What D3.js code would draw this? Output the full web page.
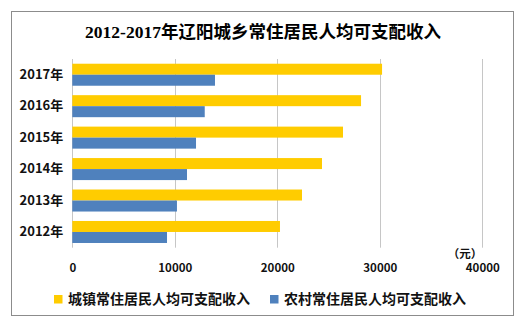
<!DOCTYPE html>
<html>
<head>
<meta charset="utf-8">
<script src="https://cdn.jsdelivr.net/npm/d3@7"></script>
<style>
  html, body { margin: 0; padding: 0; background: #fff; }
  svg { display: block; }
</style>
</head>
<body>
<svg id="chart" width="521" height="322"></svg>
<script>
// 辽阳城乡常住居民人均可支配收入 (元)
const years = ["2012年", "2013年", "2014年", "2015年", "2016年", "2017年"];
const urbanIncome = [20260, 22410, 24360, 26410, 28170, 30220];
const ruralIncome = [9240, 10210, 11190, 12070, 12920, 13920];
const xTicks = [0, 10000, 20000, 30000, 40000];
const seriesNames = ["城镇常住居民人均可支配收入", "农村常住居民人均可支配收入"];
const seriesColors = ["#FFCC00", "#4F81BD"];

const svg = d3.select("#chart");
const cjk = "'Noto Sans CJK SC', sans-serif";

// outer frame
svg.append("rect")
  .attr("x", 11.5).attr("y", 11.5)
  .attr("width", 502).attr("height", 304)
  .attr("fill", "#fff").attr("stroke", "#8c8c8c").attr("stroke-width", 1);

// title
svg.append("text")
  .attr("x", 263).attr("y", 38)
  .attr("text-anchor", "middle")
  .attr("font-family", "'Liberation Serif', 'Noto Sans CJK SC', serif")
  .attr("font-size", 17.5)
  .attr("font-weight", "bold")
  .attr("fill", "#000")
  .text("2012-2017年辽阳城乡常住居民人均可支配收入");

const plot = { left: 72.3, right: 482.3, top: 59, bottom: 247.7 };

const x = d3.scaleLinear().domain([0, 40000]).range([plot.left, plot.right]);
const y = d3.scaleBand().domain(years.slice().reverse())
  .range([plot.top, plot.bottom]).paddingInner(0.3).paddingOuter(0.15);
const sub = d3.scaleBand().domain([0, 1]).range([0, y.bandwidth()]);

// vertical gridlines
svg.append("g").selectAll("line")
  .data(xTicks)
  .join("line")
  .attr("x1", d => Math.round(x(d)) + 0.5).attr("x2", d => Math.round(x(d)) + 0.5)
  .attr("y1", plot.top).attr("y2", plot.bottom)
  .attr("stroke", "#c6c6c6").attr("stroke-width", 1);

// bars
const rows = years.map((yr, i) => ({ yr, vals: [urbanIncome[i], ruralIncome[i]] }));
const g = svg.append("g").selectAll("g")
  .data(rows)
  .join("g")
  .attr("transform", d => `translate(0,${y(d.yr)})`);
g.selectAll("rect")
  .data(d => d.vals.map((v, k) => ({ v, k })))
  .join("rect")
  .attr("x", x(0))
  .attr("y", d => sub(d.k))
  .attr("width", d => x(d.v) - x(0))
  .attr("height", sub.bandwidth())
  .attr("fill", d => seriesColors[d.k]);

// category axis labels
const yAxis = d3.axisLeft(y).tickSize(0).tickPadding(9);
const ya = svg.append("g").attr("transform", `translate(${plot.left},0)`).call(yAxis);
ya.select(".domain").remove();
ya.selectAll("text")
  .attr("font-family", cjk).attr("font-size", 13).attr("font-weight", "bold")
  .attr("fill", "#111");

// value axis labels
const xAxis = d3.axisBottom(x).tickValues(xTicks).tickSize(0).tickPadding(16.5).tickFormat(d3.format("d"));
const xa = svg.append("g").attr("transform", `translate(0,${plot.bottom})`).call(xAxis);
xa.select(".domain").remove();
xa.selectAll("text")
  .attr("font-family", cjk).attr("font-size", 11.5).attr("font-weight", "bold")
  .attr("fill", "#111");

// unit label
svg.append("text")
  .attr("x", 465).attr("y", 257.5)
  .attr("text-anchor", "middle")
  .attr("font-family", cjk).attr("font-size", 11.5).attr("font-weight", "bold")
  .attr("fill", "#111")
  .text("（元）");

// legend
const legendX = [54, 270];
const lg = svg.append("g").selectAll("g")
  .data(seriesNames)
  .join("g")
  .attr("transform", (d, i) => `translate(${legendX[i]},295)`);
lg.append("rect")
  .attr("width", 8.5).attr("height", 8.5)
  .attr("fill", (d, i) => seriesColors[i]);
lg.append("text")
  .attr("x", 14).attr("y", 9)
  .attr("font-family", cjk).attr("font-size", 14).attr("font-weight", "bold")
  .attr("fill", "#111")
  .text(d => d);
</script>
</body>
</html>
